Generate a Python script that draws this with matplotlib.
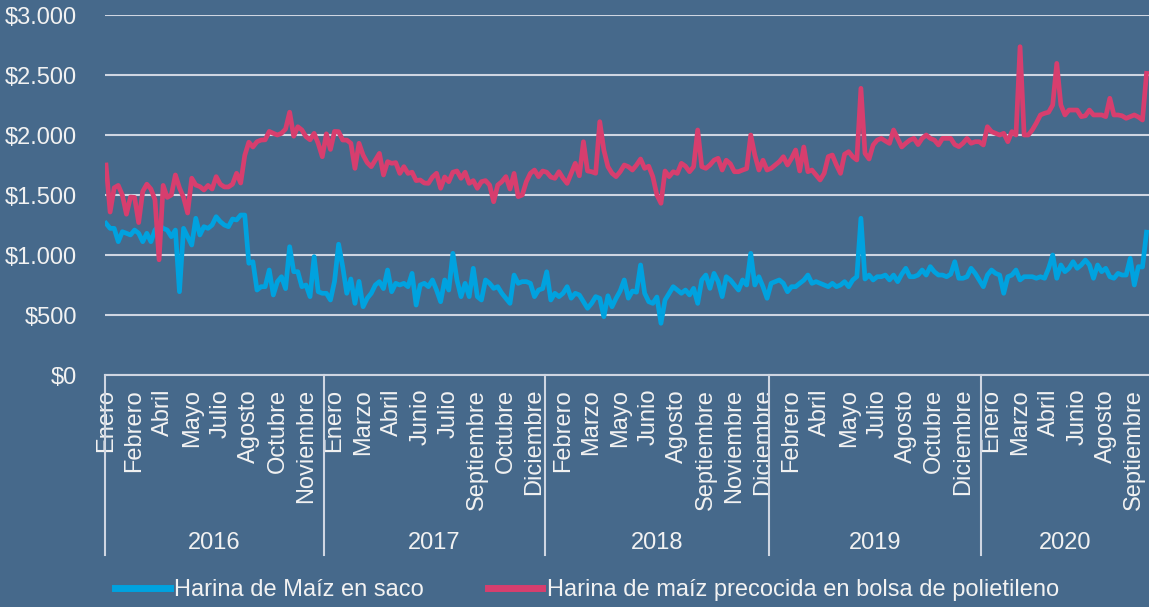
import numpy as np
import matplotlib
matplotlib.use("Agg")
import matplotlib.pyplot as plt
from matplotlib.ticker import FuncFormatter

plt.rcParams['font.family'] = ['Liberation Sans', 'DejaVu Sans']

years = ["2016", "2017", "2018", "2019", "2020"]
weeks_per_year = [54, 54, 55, 52, 41]
label_step = 7
month_labels = [
    "Enero", "Febrero", "Abril", "Mayo", "Julio", "Agosto", "Octubre", "Noviembre",
    "Enero", "Marzo", "Abril", "Junio", "Julio", "Septiembre", "Octubre", "Diciembre",
    "Febrero", "Marzo", "Mayo", "Junio", "Agosto", "Septiembre", "Noviembre", "Diciembre",
    "Febrero", "Abril", "Mayo", "Julio", "Agosto", "Octubre", "Diciembre",
    "Enero", "Marzo", "Abril", "Junio", "Agosto", "Septiembre",
]

# Harina de Maíz en saco (weekly price)
saco = [
    # 2016
    1264, 1222, 1222, 1111, 1194, 1181, 1167, 1208, 1181, 1111,
    1181, 1111, 1208, 1250, 1222, 1208, 1153, 1208, 694, 1222,
    1153, 1083, 1306, 1167, 1236, 1222, 1250, 1319, 1278, 1250,
    1236, 1300, 1292, 1333, 1333, 931, 944, 708, 736, 736,
    875, 667, 778, 819, 720, 1069, 861, 861, 736, 750,
    653, 986, 694, 681,
    # 2017
    681, 625, 780, 1090, 903, 681, 800, 597, 780, 569,
    639, 681, 750, 778, 720, 875, 694, 764, 750, 764,
    736, 847, 583, 750, 764, 736, 792, 708, 611, 792,
    708, 1014, 792, 653, 764, 653, 889, 653, 625, 792,
    764, 722, 736, 681, 639, 597, 833, 764, 778, 778,
    764, 653, 708, 720,
    # 2018
    860, 625, 681, 653, 681, 736, 640, 681, 667, 611,
    556, 597, 653, 639, 486, 660, 569, 639, 700, 792,
    640, 700, 690, 917, 681, 611, 597, 650, 431, 625,
    681, 736, 708, 681, 708, 667, 722, 597, 792, 833,
    722, 847, 780, 653, 819, 792, 750, 708, 792, 750,
    1014, 750, 819, 736, 639,
    # 2019
    764, 778, 792, 764, 694, 736, 736, 764, 790, 833,
    764, 778, 764, 750, 736, 764, 736, 750, 778, 736,
    792, 819, 1306, 800, 833, 792, 819, 819, 833, 792,
    833, 778, 840, 889, 819, 819, 833, 875, 833, 903,
    860, 833, 833, 819, 840, 944, 806, 806, 819, 889,
    847, 792,
    # 2020
    736, 833, 875, 847, 833, 681, 819, 833, 875, 792,
    819, 819, 819, 806, 819, 806, 889, 1000, 806, 917,
    861, 889, 944, 889, 917, 958, 917, 806, 917, 861,
    889, 819, 806, 847, 833, 833, 972, 750, 903, 900,
    1190,
]

# Harina de maíz precocida en bolsa de polietileno
precocida = [
    # 2016
    1750, 1358, 1560, 1580, 1500, 1340, 1483, 1480, 1270, 1530,
    1590, 1550, 1460, 960, 1580, 1480, 1500, 1667, 1560, 1480,
    1350, 1640, 1583, 1570, 1542, 1580, 1550, 1653, 1590, 1567,
    1567, 1590, 1681, 1600, 1830, 1940, 1900, 1944, 1958, 1960,
    2030, 2014, 2000, 2014, 2050, 2190, 1990, 2069, 2042, 1986,
    1960, 2014, 1930, 1819,
    # 2017
    2010, 1880, 2030, 2028, 1958, 1958, 1931, 1722, 1931, 1833,
    1770, 1736, 1792, 1847, 1667, 1778, 1764, 1770, 1680, 1736,
    1680, 1690, 1620, 1625, 1600, 1597, 1650, 1681, 1556, 1650,
    1611, 1690, 1700, 1639, 1690, 1597, 1620, 1556, 1611, 1620,
    1583, 1444, 1583, 1611, 1653, 1550, 1680, 1486, 1500, 1611,
    1681, 1708, 1653, 1700,
    # 2018
    1690, 1650, 1639, 1694, 1640, 1597, 1680, 1764, 1660, 1944,
    1700, 1694, 1681, 2111, 1875, 1736, 1681, 1653, 1694, 1750,
    1736, 1708, 1750, 1800, 1722, 1740, 1653, 1500, 1431, 1700,
    1653, 1694, 1680, 1764, 1740, 1694, 1736, 2042, 1736, 1722,
    1750, 1790, 1806, 1708, 1790, 1760, 1694, 1694, 1708, 1720,
    2000, 1833, 1708, 1790, 1708,
    # 2019
    1722, 1750, 1778, 1819, 1750, 1806, 1875, 1700, 1900, 1694,
    1708, 1667, 1625, 1681, 1820, 1833, 1750, 1680, 1840, 1861,
    1819, 1792, 2389, 1847, 1800, 1917, 1958, 1972, 1950, 1930,
    2042, 1972, 1900, 1931, 1958, 1972, 1920, 1972, 2000, 1972,
    1958, 1917, 1972, 1972, 1972, 1920, 1903, 1931, 1972, 1931,
    1944, 1944,
    # 2020
    1917, 2069, 2028, 2014, 2000, 2014, 1944, 2028, 2000, 2736,
    2000, 2000, 2042, 2100, 2167, 2181, 2190, 2250, 2597, 2250,
    2167, 2208, 2208, 2208, 2153, 2160, 2208, 2167, 2167, 2167,
    2153, 2306, 2167, 2167, 2160, 2139, 2153, 2167, 2150, 2125,
    2514,
]

bg = "#46698b"
grid_c = "#cfd6e2"
text_c = "#f2f2f2"
cyan = "#00a2df"
pink = "#d73e6e"

fig = plt.figure(figsize=(11.49, 6.07), dpi=100, facecolor=bg)
ax = fig.add_axes([105 / 1149, 232 / 607, 1044 / 1149, 360 / 607], facecolor=bg)

x = np.arange(len(saco))
ax.plot(x, saco, color=cyan, lw=3.4, solid_joinstyle="round",
        label="Harina de Maíz en saco")
ax.plot(x, precocida, color=pink, lw=3.4, solid_joinstyle="round",
        label="Harina de maíz precocida en bolsa de polietileno")

x_left, x_right = -0.25, 255.6
ax.set_xlim(x_left, x_right)
ax.set_ylim(0, 3000)
ax.set_yticks(range(0, 3001, 500))
ax.yaxis.set_major_formatter(
    FuncFormatter(lambda v, p: "$" + f"{int(v):,}".replace(",", ".")))
ax.grid(axis="y", color=grid_c, lw=1.5)
ax.set_axisbelow(True)
for s in ["top", "right", "left"]:
    ax.spines[s].set_visible(False)
ax.spines["bottom"].set_color(grid_c)
ax.spines["bottom"].set_linewidth(1.5)
ax.tick_params(axis="y", length=0, pad=20, labelsize=17, labelcolor=text_c)

ax.set_xticks(x[::label_step][:len(month_labels)])
ax.set_xticklabels(month_labels, rotation=90)
ax.tick_params(axis="x", length=0, pad=10, labelsize=17, labelcolor=text_c)

# year groups under the month labels
bounds = np.cumsum(weeks_per_year) - 0.5
edges = [x_left] + list(bounds[:-1]) + [x_right]
trans = ax.get_xaxis_transform()
for e in edges[:-1]:
    ax.plot([e, e], [0, -0.5], transform=trans, color=grid_c, lw=1.5,
            clip_on=False)
for i, yr in enumerate(years):
    ax.text((edges[i] + edges[i + 1]) / 2, -0.467, yr, transform=trans,
            ha="center", va="center", fontsize=17, color=text_c)

leg = fig.legend(loc="center", bbox_to_anchor=(0.511, 0.028), ncol=2,
                 frameon=False, fontsize=17, handlelength=2.3,
                 handletextpad=0.2, columnspacing=2.7, labelcolor=text_c)
for line in leg.get_lines():
    line.set_linewidth(5)

fig.savefig("out.png", dpi=100, facecolor=bg)
